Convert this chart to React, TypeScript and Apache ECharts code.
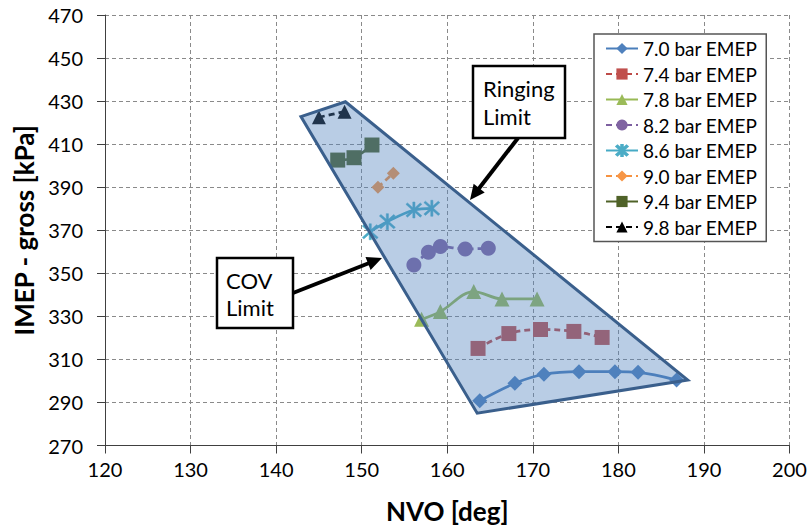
import React, { useEffect, useRef } from "react";
import * as echarts from "echarts";

// ---- data ----
const seriesNames = [
  "7.0 bar EMEP",
  "7.4 bar EMEP",
  "7.8 bar EMEP",
  "8.2 bar EMEP",
  "8.6 bar EMEP",
  "9.0 bar EMEP",
  "9.4 bar EMEP",
  "9.8 bar EMEP",
];
const nvo70 = [163.8, 167.9, 171.3, 175.4, 179.6, 182.3, 186.8];
const imep70 = [290.8, 298.9, 303.1, 304.3, 304.3, 304.0, 300.4];
const nvo74 = [163.6, 167.2, 170.9, 174.8, 178.1];
const imep74 = [315.1, 322.0, 323.9, 323.0, 320.2];
const nvo78 = [157.0, 159.2, 163.1, 166.4, 170.5];
const imep78 = [328.6, 332.2, 341.5, 338.1, 338.1];
const nvo82 = [156.1, 157.8, 159.2, 162.1, 164.8];
const imep82 = [353.9, 359.8, 362.4, 361.3, 361.6];
const nvo86 = [151.0, 153.0, 156.1, 158.2];
const imep86 = [369.3, 374.0, 379.4, 380.2];
const nvo90 = [151.9, 153.7];
const imep90 = [390.0, 396.5];
const nvo94 = [147.2, 149.1, 151.2];
const imep94 = [402.6, 403.7, 409.6];
const nvo98 = [145.0, 148.0];
const imep98 = [422.5, 425.1];

// operating envelope polygon (NVO, IMEP)
const envNvo = [142.9, 148.1, 188.1, 163.5];
const envImep = [422.8, 429.7, 300.4, 285.0];

const xTicks = { min: 120, max: 200, interval: 10 };
const yTicks = { min: 270, max: 470, interval: 20 };

const FONT = "Lato, 'Open Sans', sans-serif";

const ASTERISK =
  "path://M8.8,0 L11.2,0 L11.2,20 L8.8,20 Z M1.1,2.9 L2.9,1.1 L18.9,17.1 L17.1,18.9 Z M17.1,1.1 L18.9,2.9 L2.9,18.9 L1.1,17.1 Z";

function zip(xs: number[], ys: number[]) {
  return xs.map((x, i) => [x, ys[i]]);
}

function arrow(x1: number, y1: number, x2: number, y2: number) {
  const len = Math.hypot(x2 - x1, y2 - y1);
  const ux = (x2 - x1) / len;
  const uy = (y2 - y1) / len;
  const hl = 15;
  const hw = 7;
  const bx = x2 - ux * hl;
  const by = y2 - uy * hl;
  return [
    {
      type: "line",
      shape: { x1, y1, x2: bx + ux * 2, y2: by + uy * 2 },
      style: { stroke: "#000", lineWidth: 4 },
      z: 100,
    },
    {
      type: "polygon",
      shape: {
        points: [
          [x2, y2],
          [bx - uy * hw, by + ux * hw],
          [bx + uy * hw, by - ux * hw],
        ],
      },
      style: { fill: "#000" },
      z: 100,
    },
  ];
}

function box(x: number, y: number, w: number, h: number, lines: string[], tx: number, ty: number, lh: number) {
  return [
    {
      type: "rect",
      shape: { x, y, width: w, height: h },
      style: { fill: "#fff", stroke: "#000", lineWidth: 2.5 },
      z: 100,
    },
    ...lines.map((t, i) => ({
      type: "text",
      x: tx,
      y: ty + i * lh,
      style: {
        text: t,
        font: `22px ${FONT}`,
        fill: "#000",
        textVerticalAlign: "middle",
      },
      z: 101,
    })),
  ];
}

export default function App() {
  const ref = useRef<HTMLDivElement>(null);

  useEffect(() => {
    if (!ref.current) return;
    const chart = echarts.init(ref.current, null, { renderer: "svg" });

    const mk = (
      name: string,
      xs: number[],
      ys: number[],
      lineColor: string,
      markColor: string,
      symbol: string,
      size: number,
      dashed: boolean
    ) => ({
      name,
      type: "line",
      data: zip(xs, ys),
      smooth: 0.35,
      symbol,
      symbolSize: size,
      showSymbol: true,
      lineStyle: { color: lineColor, width: 2.75, type: dashed ? [6, 4] : "solid" },
      itemStyle: { color: markColor, borderColor: markColor, borderWidth: symbol === ASTERISK ? 0.5 : 0 },
      z: 3,
    });

    const option: any = {
      animation: false,
      grid: { left: 105, right: 22.5, top: 15, bottom: 83.5, containLabel: false },
      xAxis: {
        type: "value",
        min: xTicks.min,
        max: xTicks.max,
        interval: xTicks.interval,
        name: "NVO [deg]",
        nameLocation: "middle",
        nameGap: 52,
        nameTextStyle: { fontFamily: FONT, fontSize: 26, fontWeight: "bold", color: "#000" },
        axisLine: { lineStyle: { color: "#404040", width: 1 } },
        axisTick: { show: true, length: 8, inside: false, lineStyle: { color: "#404040" } },
        axisLabel: { fontFamily: FONT, fontSize: 20, color: "#000", margin: 13 },
        splitLine: { show: true, lineStyle: { color: "#8a8a8a", type: [4, 3], width: 1 } },
      },
      yAxis: {
        type: "value",
        min: yTicks.min,
        max: yTicks.max,
        interval: yTicks.interval,
        name: "IMEP - gross [kPa]",
        nameLocation: "middle",
        nameGap: 67,
        nameTextStyle: { fontFamily: FONT, fontSize: 26, fontWeight: "bold", color: "#000" },
        axisLine: { show: true, lineStyle: { color: "#404040", width: 1 } },
        axisTick: { show: true, length: 8, inside: false, lineStyle: { color: "#404040" } },
        axisLabel: { fontFamily: FONT, fontSize: 20, color: "#000", margin: 22 },
        splitLine: { show: true, lineStyle: { color: "#8a8a8a", type: [4, 3], width: 1 } },
      },
      legend: {
        data: seriesNames,
        orient: "vertical",
        left: 594,
        top: 34,
        padding: [5, 9, 5, 11],
        itemWidth: 32,
        itemHeight: 14,
        itemGap: 6.5,
        backgroundColor: "#fff",
        borderColor: "#555",
        borderWidth: 1.5,
        borderRadius: 0,
        textStyle: { fontFamily: FONT, fontSize: 19, color: "#000" },
        z: 20,
      },
      series: [
        mk(seriesNames[0], nvo70, imep70, "#4A7EBB", "#4F81BD", "diamond", 15, false),
        mk(seriesNames[1], nvo74, imep74, "#BE4B48", "#C0504D", "rect", 15, true),
        mk(seriesNames[2], nvo78, imep78, "#98B954", "#9BBB59", "triangle", 15, false),
        mk(seriesNames[3], nvo82, imep82, "#7D60A0", "#8064A2", "circle", 15, true),
        mk(seriesNames[4], nvo86, imep86, "#46AAC5", "#4BACC6", ASTERISK, 16, false),
        mk(seriesNames[5], nvo90, imep90, "#F69240", "#F79646", "diamond", 13, true),
        mk(seriesNames[6], nvo94, imep94, "#4F6228", "#4F6228", "rect", 15, false),
        mk(seriesNames[7], nvo98, imep98, "#000000", "#000000", "triangle", 14, true),
        {
          name: "envelope",
          type: "custom",
          data: [[envNvo[0], envImep[0]]],
          z: 10,
          silent: true,
          renderItem: (_params: any, api: any) => {
            const pts = envNvo.map((x, i) => api.coord([x, envImep[i]]));
            return {
              type: "polygon",
              shape: { points: pts },
              style: {
                fill: "rgba(79,129,189,0.4)",
                stroke: "#3A5F8C",
                lineWidth: 3,
                lineJoin: "miter",
              },
            };
          },
        },
      ],
      graphic: [
        ...arrow(518, 138, 470, 200),
        ...box(473, 66, 92, 72, ["Ringing", "Limit"], 483, 88, 28),
        ...arrow(293, 293, 382, 258),
        ...box(217, 258, 76, 70, ["COV", "Limit"], 226, 280, 27),
      ],
    };

    chart.setOption(option);
    return () => chart.dispose();
  }, []);

  return (
    <div
      ref={ref}
      style={{ position: "absolute", left: 0, top: 0, width: 812, height: 529, background: "#fff" }}
    />
  );
}
